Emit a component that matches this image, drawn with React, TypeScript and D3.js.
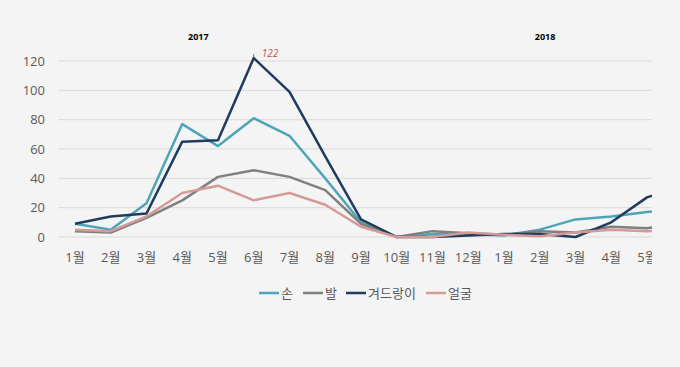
import React from "react";
import * as d3 from "d3";

const months = ["1월","2월","3월","4월","5월","6월","7월","8월","9월","10월","11월","12월","1월","2월","3월","4월","5월"];
const hand = [9,5,23,77,62,81,69,40,10,0,2,2,1,5,12,14,17,20];
const foot = [4,3,13,25,41,45.5,41,32,9,0,4,2.5,1.5,4,3,7,6,10];
const armpit = [9,14,16,65,66,122,99,55,12,0,0,1,2,2,0,10,27,35];
const face = [5,4,14,30,35,25,30,22,7,0,0,3,1.5,0.5,3,5,4,5];
const seriesNames = ["손","발","겨드랑이","얼굴"];
const seriesColors = ["#4fa5b8","#7f7f7f","#1f3b5e","#d49a98"];
const yTicks = [0,20,40,60,80,100,120];
const years = [{ label: "2017", at: 3.45 }, { label: "2018", at: 13.15 }];

export default function App() {
  const W = 680, H = 367;
  const left = 58, right = 652;
  const x = d3.scaleLinear().domain([0, 16]).range([75, 647]);
  const y = d3.scaleLinear().domain([0, 120]).range([237, 61]);
  const data = [hand, foot, armpit, face];
  const line = d3.line<number>().x((_, i) => x(i)).y((d) => y(d));
  const font = "'Open Sans', 'Noto Sans CJK KR', sans-serif";
  const peakIdx = armpit.indexOf(d3.max(armpit) as number);
  return (
    <svg width={W} height={H} style={{ position: "absolute", left: 0, top: 0, background: "#f4f4f4" }} fontFamily={font}>
      <rect x={0} y={0} width={W} height={H} fill="#f4f4f4" />
      <defs>
        <clipPath id="plotclip">
          <rect x={left} y={30} width={right - left} height={250} />
        </clipPath>
      </defs>
      {yTicks.map((t) => (
        <g key={t}>
          <line x1={left} x2={right} y1={y(t)} y2={y(t)} stroke="#d9d9d9" strokeWidth={1} />
          <text x={45} y={y(t)} dy="0.35em" textAnchor="end" fontSize={13} fill="#595959">{t}</text>
        </g>
      ))}
      {years.map((yr) => (
        <text key={yr.label} x={x(yr.at)} y={40} textAnchor="middle" fontSize={9} fontWeight="bold" fill="#000">{yr.label}</text>
      ))}
      <g clipPath="url(#plotclip)">
        {data.map((s, k) => (
          <path key={k} d={line(s) || ""} fill="none" stroke={seriesColors[k]} strokeWidth={2.5} strokeLinejoin="round" />
        ))}
      </g>
      <line x1={x(peakIdx)} x2={x(peakIdx)} y1={y(armpit[peakIdx]) - 4} y2={y(armpit[peakIdx]) - 1} stroke="#c0504d" strokeWidth={1} />
      <text x={x(peakIdx) + 8} y={y(armpit[peakIdx]) - 1} fontSize={10} fontStyle="italic" fill="#c0504d">{armpit[peakIdx]}</text>
      <g clipPath="url(#plotclip)">
        {months.map((m, i) => (
          <text key={i} x={x(i)} y={257} dy="0.35em" textAnchor="middle" fontSize={13} fill="#595959">{m}</text>
        ))}
      </g>
      {seriesNames.map((n, k) => {
        const lx = [259, 303, 346, 426][k];
        return (
          <g key={n}>
            <line x1={lx} x2={lx + 20} y1={293} y2={293} stroke={seriesColors[k]} strokeWidth={2.5} />
            <text x={lx + 22} y={293} dy="0.35em" fontSize={13} fill="#595959">{n}</text>
          </g>
        );
      })}
    </svg>
  );
}
